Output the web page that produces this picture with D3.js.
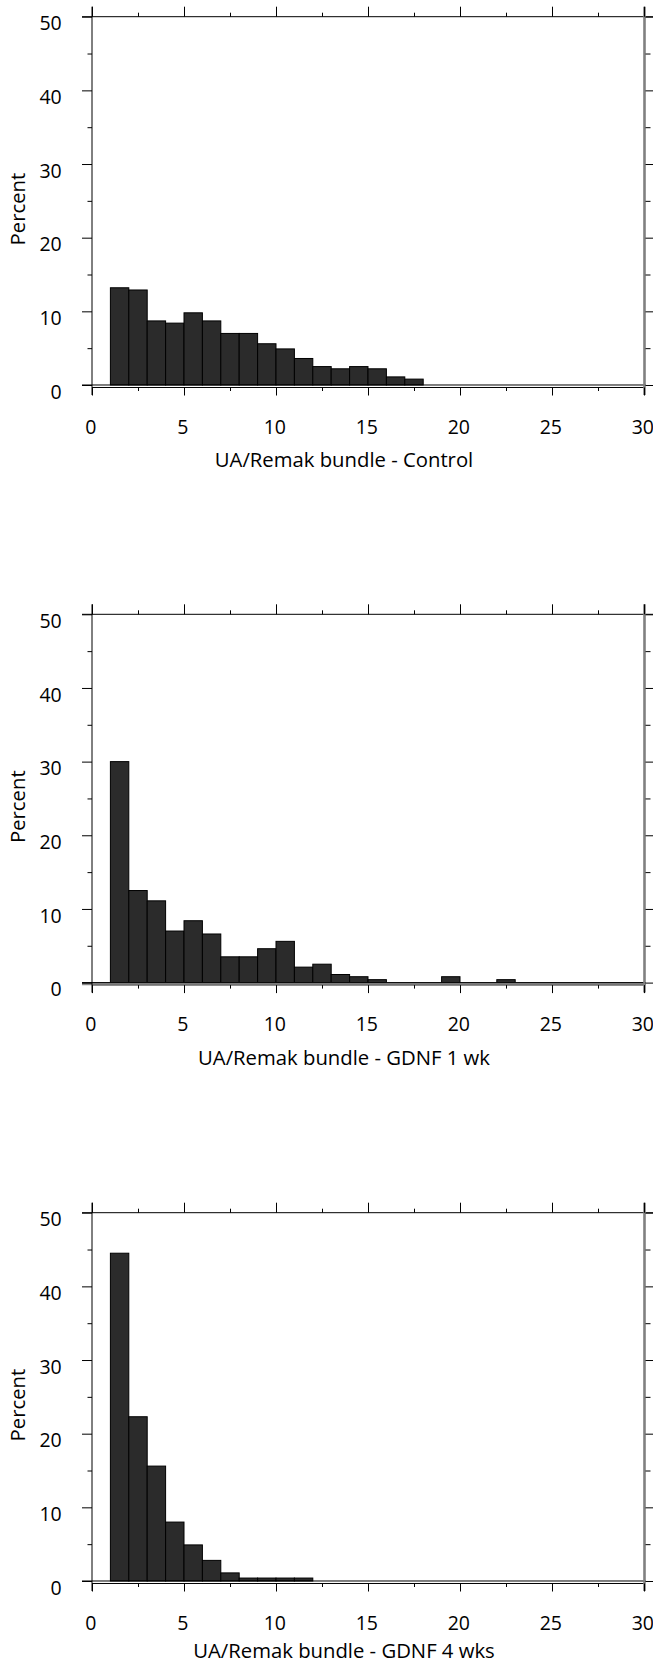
<!DOCTYPE html>
<html>
<head>
<meta charset="utf-8">
<script src="https://cdn.jsdelivr.net/npm/d3@7"></script>
<style>
  body { margin: 0; background: #fff; }
  svg { display: block; }
  text { font-family: "Open Sans", "Noto Sans", sans-serif; fill: #000; }
</style>
</head>
<body>
<div id="chart"></div>
<script>
/*jshint esversion: 6 */

// percent of bundles per bin (bins are 1 unmyelinated axon wide, first bin starts at 1)
const controlPct = [13.2, 12.9, 8.7, 8.4, 9.8, 8.7, 7.0, 7.0, 5.6, 4.9, 3.6, 2.5, 2.2, 2.5, 2.2, 1.1, 0.8];
const gdnf1wkPct = [30.0, 12.5, 11.1, 7.0, 8.4, 6.6, 3.5, 3.5, 4.6, 5.6, 2.1, 2.5, 1.1, 0.8, 0.4, 0, 0, 0, 0.8, 0, 0, 0.4];
const gdnf4wkPct = [44.5, 22.3, 15.6, 8.0, 4.9, 2.8, 1.1, 0.4, 0.4, 0.4, 0.4];

const binStart = 1;
const binWidth = 1;

const xTicks = [0, 5, 10, 15, 20, 25, 30];
const xMinorTicks = [2.5, 7.5, 12.5, 17.5, 22.5, 27.5];
const yTicks = [0, 10, 20, 30, 40, 50];
const yMinorTicks = [5, 15, 25, 35, 45];

const xTitles = ["UA/Remak bundle - Control", "UA/Remak bundle - GDNF 1 wk", "UA/Remak bundle - GDNF 4 wks"];
const yTitle = "Percent";

const W = 653, H = 1664;
const left = 92, right = 644;
const plotH = 368.3;
const panelTops = [16.7, 614.3, 1212.7];
const titleDrop = [82, 82, 77];   // last one nudged up so it stays inside the page
const fontSize = 19.5;
const titleSize = 20.3;

const svg = d3.select("#chart").append("svg")
    .attr("width", W)
    .attr("height", H);

const xScale = d3.scaleLinear().domain([0, 30]).range([left, right]);

drawPanel(controlPct, 0, false);
drawPanel(gdnf1wkPct, 1, true);
drawPanel(gdnf4wkPct, 2, false);

function drawPanel(values, idx, grayBase){
    const top = panelTops[idx];
    const g = svg.append("g").attr("transform", "translate(0," + top + ")");

    const yScale = d3.scaleLinear().domain([0, 50]).range([plotH, 0]);
    const y0 = yScale(0);

    // keep the bin edges with each value, then skip the empty bins
    const bins = [];
    values.forEach((v, i) => {
        if(v > 0) bins.push({x0: binStart + i * binWidth, x1: binStart + (i + 1) * binWidth, v: v});
    });

    g.selectAll("rect.bar")
        .data(bins)
        .enter()
        .append("rect")
        .attr("class", "bar")
        .attr("x", (d) => xScale(d.x0))
        .attr("width", (d) => xScale(d.x1) - xScale(d.x0))
        .attr("y", (d) => yScale(d.v))
        .attr("height", (d) => y0 - yScale(d.v))
        .attr("fill", "#2b2b2b")
        .attr("stroke", "#000")
        .attr("stroke-width", 1);

    // frame lines (old stats package style, ends stick out like ticks)
    if(grayBase){
        g.append("line")
            .attr("x1", left - 10).attr("x2", right + 2)
            .attr("y1", y0 + 1.2).attr("y2", y0 + 1.2)
            .attr("stroke", "#888").attr("stroke-width", 3);
    }
    g.append("line")
        .attr("x1", left - 10).attr("x2", right + 2)
        .attr("y1", y0).attr("y2", y0)
        .attr("stroke", "#000").attr("stroke-width", 1);
    g.append("line")
        .attr("x1", left).attr("x2", right)
        .attr("y1", y0 + 2.5).attr("y2", y0 + 2.5)
        .attr("stroke", grayBase ? "#555" : "#000").attr("stroke-width", 1);
    g.append("line")
        .attr("x1", left - 10).attr("x2", W)
        .attr("y1", yScale(50)).attr("y2", yScale(50))
        .attr("stroke", "#000").attr("stroke-width", 1);
    g.append("line")
        .attr("x1", left).attr("x2", left)
        .attr("y1", yScale(50) - 10).attr("y2", y0 + 10)
        .attr("stroke", "#000").attr("stroke-width", 1);
    g.append("line")
        .attr("x1", right + 0.5).attr("x2", right + 0.5)
        .attr("y1", yScale(50) - 10).attr("y2", y0 + 10)
        .attr("stroke", "#808080").attr("stroke-width", 2.6);

    // top ticks
    g.append("g")
        .attr("transform", "translate(0," + yScale(50) + ")")
        .call(d3.axisTop(xScale).tickValues(xTicks).tickSize(10).tickFormat(""))
        .call(noDomain);
    g.append("g")
        .attr("transform", "translate(0," + yScale(50) + ")")
        .call(d3.axisTop(xScale).tickValues(xMinorTicks).tickSize(4).tickFormat(""))
        .call(noDomain);

    // bottom ticks + labels
    const bx = g.append("g")
        .attr("transform", "translate(0," + (y0 + 2.5) + ")")
        .call(d3.axisBottom(xScale).tickValues(xTicks).tickSize(8))
        .call(noDomain);
    bx.selectAll("text")
        .attr("y", 46).attr("dy", null).attr("x", -1.7)
        .style("font-size", fontSize + "px");
    g.append("g")
        .attr("transform", "translate(0," + (y0 + 2.5) + ")")
        .call(d3.axisBottom(xScale).tickValues(xMinorTicks).tickSize(3.5).tickFormat(""))
        .call(noDomain);

    // left ticks + labels
    const ly = g.append("g")
        .attr("transform", "translate(" + left + ",0)")
        .call(d3.axisLeft(yScale).tickValues(yTicks).tickSize(10).tickPadding(20.3))
        .call(noDomain);
    ly.selectAll("text")
        .attr("dy", "0.68em")
        .style("font-size", fontSize + "px");
    g.append("g")
        .attr("transform", "translate(" + left + ",0)")
        .call(d3.axisLeft(yScale).tickValues(yMinorTicks).tickSize(4.5).tickFormat(""))
        .call(noDomain);

    // right ticks
    g.append("g")
        .attr("transform", "translate(" + (right + 1.5) + ",0)")
        .call(d3.axisRight(yScale).tickValues(yTicks).tickSize(8).tickFormat(""))
        .call(noDomain);
    g.append("g")
        .attr("transform", "translate(" + (right + 1.5) + ",0)")
        .call(d3.axisRight(yScale).tickValues(yMinorTicks).tickSize(5).tickFormat(""))
        .call(noDomain);

    g.selectAll(".tick line").attr("stroke", "#000");

    // axis titles
    g.append("text")
        .attr("x", 344)
        .attr("y", y0 + titleDrop[idx])
        .attr("text-anchor", "middle")
        .style("font-size", titleSize + "px")
        .text(xTitles[idx]);

    g.append("text")
        .attr("transform", "translate(25," + 192.4 + ") rotate(-90)")
        .attr("text-anchor", "middle")
        .style("font-size", titleSize + "px")
        .text(yTitle);
}

function noDomain(sel){
    sel.select(".domain").remove();
}
</script>
</body>
</html>
